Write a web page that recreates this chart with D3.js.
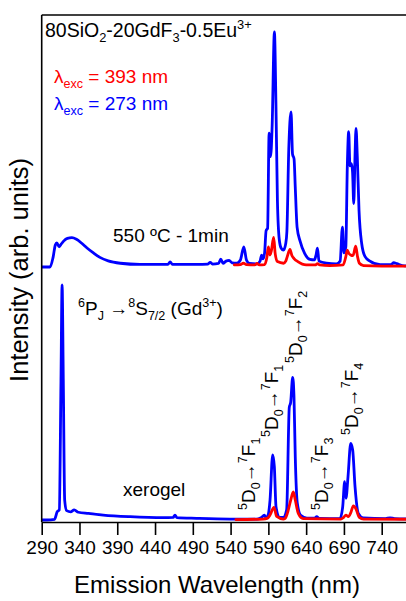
<!DOCTYPE html>
<html>
<head>
<meta charset="utf-8">
<script src="https://cdn.jsdelivr.net/npm/d3@7"></script>
<style>
  body { margin: 0; background: #fff; }
  svg { display: block; }
  text { font-family: "Liberation Sans", Arial, Helvetica, sans-serif; fill: #000; }
</style>
</head>
<body>
<svg id="chart" width="406" height="601"></svg>
<script>
// Emission wavelength tick labels (nm)
const xTicks = [290, 340, 390, 440, 490, 540, 590, 640, 690, 740];

// Spectra as [wavelength (nm), relative intensity]
// 550 °C - 1 min, excitation 273 nm
const annealed273 = [
  [290, 0], [301, 0], [305, 4], [308, 9.4], [310, 10.3], [313, 8.6], [316, 9.8], [319, 11],
  [324, 12.2], [330, 12.5], [336, 11.8], [343, 10.1], [350, 8.1], [358, 6.1], [367, 4.1],
  [378, 2.6], [394, 1.6], [420, 1.1], [457, 1.1], [460, 2.2], [463, 1.1], [495, 1.1],
  [510, 1.2], [513, 2.0], [516, 1.2], [524, 1.5], [527, 3.3], [530, 1.6], [534, 2.5],
  [538, 2.8], [542, 1.8], [548, 1.6], [553, 3], [557.5, 8.6], [561, 3], [565, 1.5],
  [575, 1.3], [579, 2.5], [581, 5], [583, 3.5], [585, 6], [587, 15.5], [589, 16.5],
  [591, 57], [593, 47], [595, 60], [598, 100], [600, 70], [602, 28], [604.5, 11.5],
  [607, 8], [610, 7.2], [613, 10], [614.5, 15], [617, 50], [620, 66], [622, 48], [624, 46],
  [625.6, 34], [628, 17], [632, 11], [638, 5.8], [645, 3.2], [651, 3], [653, 5], [655, 8],
  [657, 2.5], [667, 1.6], [680, 1.3], [685, 2.5], [688, 17], [690, 6], [692.5, 8.5],
  [694.5, 43], [696.3, 57.6], [698, 43], [700, 44], [701.5, 40], [703, 27], [704.5, 45],
  [706, 59], [707.7, 47], [710, 24], [713.5, 10], [718, 4.4], [724.5, 2.5], [738, 1.0],
  [752, 1.0], [756, 1.8], [760, 1.4], [770, 0.5], [780, 0.4]
];
// 550 °C - 1 min, excitation 393 nm
const annealed393 = [
  [545, 0.9], [553, 1.0], [557, 1.6], [561, 1.0], [572, 0.9], [575, 1.5], [578, 0.9],
  [585, 1.0], [588, 4], [590, 8.6], [592, 5.1], [594, 7], [597, 12.6], [599, 5.8],
  [602, 2.3], [610, 1.6], [613, 2.5], [615, 4.4], [618.6, 7.5], [621, 5], [624, 3.6],
  [629, 2.3], [640, 0.9], [652, 0.9], [655, 1.4], [658, 0.9], [671, 0.6], [689, 0.9],
  [692.5, 4.4], [694.5, 7.2], [696.5, 5.8], [699, 5.1], [702, 4.8], [705.6, 8.9], [708, 4.4],
  [710.5, 1.6], [716, 0.6], [740, 0.4], [780, 0.4]
];
// Xerogel, excitation 273 nm
const xerogel273 = [
  [290, 0], [297, 0], [307, 0.3], [310.5, 3.5], [313.3, 4.3], [315.5, 59], [317, 100],
  [318.6, 59], [320.4, 8.5], [323, 4], [328.4, 3.5], [333, 4.3], [338.5, 3.3], [352, 2.8],
  [371.5, 2.1], [407, 1.4], [451, 1], [464, 1.1], [466.4, 2.1], [469, 1.0], [495, 0.7],
  [539, 0.4], [575, 0.4], [581, 1.1], [584.6, 2.1], [587, 0.8], [590, 2.5], [592.2, 8.5],
  [595.7, 27.7], [597.9, 22.7], [600.1, 5.7], [604.5, 1.1], [610, 1.1], [614.2, 4.3],
  [617.7, 48], [619.5, 50], [622.2, 60.7], [623.9, 52.5], [625.6, 27], [628.3, 7.1],
  [632.8, 2], [641, 0.8], [651, 0.8], [654, 1.4], [657, 0.7], [684.8, 0.6], [688.4, 5.7],
  [691, 16.3], [692.7, 9.2], [695.4, 18.4], [699, 32.6], [701.6, 29.8], [704.7, 14.2],
  [709, 2.8], [715.6, 0.9], [745, 0.6], [751, 0.9], [757, 0.6], [780, 0.4]
];
// Xerogel, excitation 393 nm
const xerogel393 = [
  [547, 0.2], [583, 0.4], [589, 0.8], [592.2, 2.1], [597.4, 5.4], [601, 1.5], [609.8, 0.4],
  [612, 0.6], [615.1, 2.8], [619.6, 8.5], [623, 12], [625.6, 8.5], [629.6, 2.8], [636, 0.6],
  [686, 0.4], [689.2, 1], [692.7, 2.1], [695.8, 1.4], [699, 3], [702.5, 6], [706, 4.7],
  [710.3, 1.1], [716, 0.4], [780, 0.3]
];

// Eu3+ 5D0 -> 7FJ transition labels: final J, and the (wavelength, intensity) where each label starts
const transitionJ = ["1", "1", "2", "3", "4"];
const transitionNm = [572.3, 602.7, 634.5, 668.9, 708.6];
const transitionLevel = [4.3, 35.3, 66.8, 4.3, 36.2];

const RED = "#ff0000", BLUE = "#0000ff";

const svg = d3.select("#chart");
const W = 406, H = 601;
const plotLeft = 41.7, axisY = 522, plotTop = 15;

const x = d3.scaleLinear().domain([290, 780]).range([plotLeft, plotLeft + 490 * (340 / 450)]);
const yTop = d3.scaleLinear().domain([0, 100]).range([267, 32]);
const yBot = d3.scaleLinear().domain([0, 100]).range([520, 285]);

svg.append("defs").append("clipPath").attr("id", "plotClip")
  .append("rect").attr("x", plotLeft).attr("y", plotTop).attr("width", W - plotLeft).attr("height", axisY - plotTop);

const plot = svg.append("g").attr("clip-path", "url(#plotClip)");

function drawLine(data, y, color) {
  const line = d3.line().x(d => x(d[0])).y(d => y(d[1])).curve(d3.curveMonotoneX);
  plot.append("path").datum(data)
    .attr("d", line).attr("fill", "none").attr("stroke", color)
    .attr("stroke-width", 2.8).attr("stroke-linejoin", "round").attr("stroke-linecap", "round");
}
drawLine(annealed273, yTop, BLUE);
drawLine(annealed393, yTop, RED);
drawLine(xerogel273, yBot, BLUE);
drawLine(xerogel393, yBot, RED);

// Frame: top border and left axis line
svg.append("line").attr("x1", plotLeft).attr("x2", W + 2).attr("y1", plotTop).attr("y2", plotTop)
  .attr("stroke", "#000").attr("stroke-width", 1.6);
svg.append("line").attr("x1", plotLeft).attr("x2", plotLeft).attr("y1", plotTop).attr("y2", axisY)
  .attr("stroke", "#000").attr("stroke-width", 1.6);

// Bottom axis
const xAxis = d3.axisBottom(x).tickValues(xTicks).tickSize(13).tickSizeOuter(0).tickPadding(6);
const gx = svg.append("g").attr("transform", `translate(0,${axisY})`).call(xAxis);
gx.select(".domain").attr("stroke", "#000").attr("stroke-width", 1.6);
gx.selectAll(".tick line").attr("stroke", "#000").attr("stroke-width", 1.6);
gx.selectAll(".tick text").attr("font-size", 19).attr("fill", "#000")
  .attr("font-family", "'Liberation Sans', Arial, sans-serif");

// Axis titles
svg.append("text").attr("x", 217).attr("y", 593).attr("text-anchor", "middle")
  .attr("font-size", 24).text("Emission Wavelength (nm)");
svg.append("text").attr("transform", "translate(28,270) rotate(-90)")
  .attr("text-anchor", "middle").attr("font-size", 25.5).text("Intensity (arb. units)");

// Rich text with super/subscripts: parts = [[text, "sup"|"sub"|undefined], ...]
function richText(parent, parts, size) {
  const t = parent.append("text").attr("font-size", size);
  let shift = 0;
  parts.forEach(([str, kind]) => {
    const target = kind === "sup" ? -0.4 * size : kind === "sub" ? 0.25 * size : 0;
    t.append("tspan").attr("dy", target - shift)
      .attr("font-size", kind ? size * 0.66 : size).text(str);
    shift = target;
  });
  return t;
}

// Composition title
richText(svg.append("g").attr("transform", "translate(45,37)"),
  [["80SiO"], ["2", "sub"], ["-20GdF"], ["3", "sub"], ["-0.5Eu"], ["3+", "sup"]], 19.5);

// Excitation legend
richText(svg.append("g").attr("transform", "translate(54,83)"),
  [["λ"], ["exc", "sub"], [" = 393 nm"]], 19).style("fill", RED).selectAll("tspan").style("fill", RED);
richText(svg.append("g").attr("transform", "translate(54,110)"),
  [["λ"], ["exc", "sub"], [" = 273 nm"]], 19).style("fill", BLUE).selectAll("tspan").style("fill", BLUE);

// Panel labels
svg.append("text").attr("x", 113).attr("y", 242).attr("font-size", 19).text("550 ºC - 1min");
svg.append("text").attr("x", 123).attr("y", 496).attr("font-size", 19).text("xerogel");
richText(svg.append("g").attr("transform", "translate(78,315)"),
  [["6", "sup"], ["P"], ["J", "sub"], [" →"], ["8", "sup"], ["S"], ["7/2", "sub"], [" (Gd"], ["3+", "sup"], [")"]], 19);

// Eu3+ transition labels, rotated to read upwards
transitionJ.forEach((j, i) => {
  const xb = x(transitionNm[i]);
  const yb = yBot(transitionLevel[i]);
  richText(svg.append("g").attr("transform", `translate(${xb},${yb}) rotate(-90)`),
    [["5", "sup"], ["D"], ["0", "sub"], ["→"], ["7", "sup"], ["F"], [j, "sub"]], 19);
});
</script>
</body>
</html>
